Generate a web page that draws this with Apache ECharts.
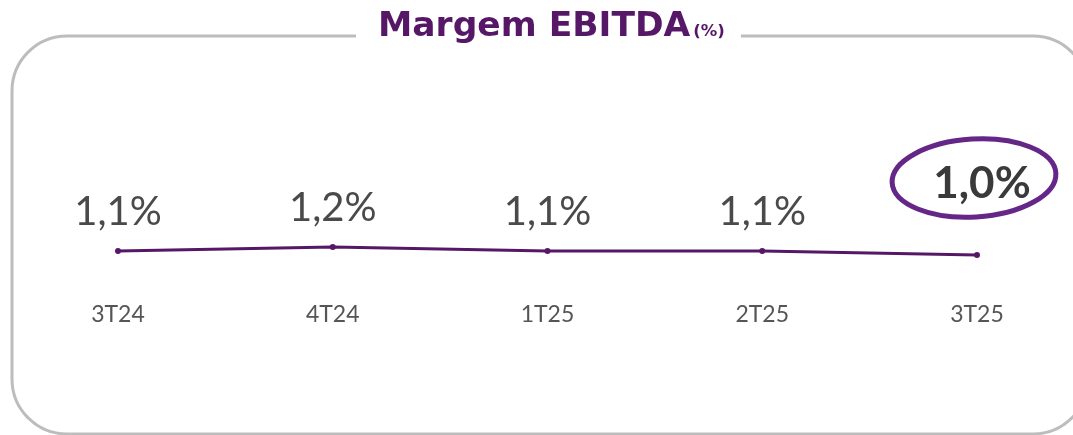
<!DOCTYPE html>
<html>
<head>
<meta charset="utf-8">
<script src="https://cdn.jsdelivr.net/npm/echarts@6/dist/echarts.min.js"></script>
<style>
  html, body { margin: 0; padding: 0; background: #fff; }
  #chart { width: 1073px; height: 435px; }
</style>
</head>
<body>
<div id="chart"></div>
<script>
// trimestres e margem EBITDA (%)
const quarters = ['3T24', '4T24', '1T25', '2T25', '3T25'];
const margin = [1.1, 1.2, 1.1, 1.1, 1.0];
const highlightIndex = 4;

const purple = '#561866';
const fmt = (v) => v.toFixed(1).replace('.', ',') + '%';

const chart = echarts.init(document.getElementById('chart'));

const seriesData = margin.map((v, i) => {
  if (i !== highlightIndex) return v;
  return {
    value: v,
    label: {
      fontSize: 44,
      fontWeight: 'bold',
      color: '#3a3a3a',
      distance: 46,
      offset: [5, 0]
    }
  };
});

const frame = {
  type: 'rect',
  z: 0,
  silent: true,
  shape: { x: 12, y: 36, width: 1076, height: 398, r: 55 },
  style: { fill: 'none', stroke: '#bdbdbd', lineWidth: 3 }
};

chart.setOption({
  animation: false,
  title: {
    text: '{a|Margem EBITDA}{b|(%)}',
    left: 356,
    top: 10,
    backgroundColor: '#fff',
    padding: [0, 16, 0, 22],
    textStyle: {
      rich: {
        a: { fontFamily: 'DejaVu Sans', fontWeight: 'bold', fontSize: 34.5, color: purple, padding: [0, 3, 0, 0] },
        b: { fontFamily: 'DejaVu Sans', fontWeight: 'bold', fontSize: 16.5, color: purple, padding: [9, 0, 0, 0] }
      }
    }
  },
  graphic: [frame],
  grid: { left: 118, right: 96, top: 215, bottom: 140 },
  xAxis: {
    type: 'category',
    data: quarters,
    boundaryGap: false,
    axisLine: { show: false },
    axisTick: { show: false },
    axisLabel: { fontFamily: 'Lato', fontSize: 23, color: '#555', margin: 8 }
  },
  yAxis: {
    type: 'value',
    min: 0,
    max: 2,
    show: false
  },
  series: [{
    type: 'line',
    data: seriesData,
    symbol: 'circle',
    symbolSize: 6,
    lineStyle: { color: purple, width: 3 },
    itemStyle: { color: purple },
    z: 3,
    label: {
      show: true,
      position: 'top',
      distance: 16,
      fontFamily: 'Lato',
      fontSize: 40,
      color: '#4a4a4a',
      formatter: (p) => fmt(p.value)
    }
  }]
});

// elipse à mão em volta do último valor, posicionada a partir do ponto
const pt = chart.convertToPixel({ seriesIndex: 0 }, [highlightIndex, margin[highlightIndex]]);
chart.setOption({
  graphic: [frame, {
    type: 'ellipse',
    z: 10,
    silent: true,
    rotation: 0.06,
    x: pt[0] - 3,
    y: pt[1] - 77,
    shape: { cx: 0, cy: 0, rx: 82, ry: 39 },
    style: { fill: 'none', stroke: '#642687', lineWidth: 5 }
  }]
});
</script>
</body>
</html>
